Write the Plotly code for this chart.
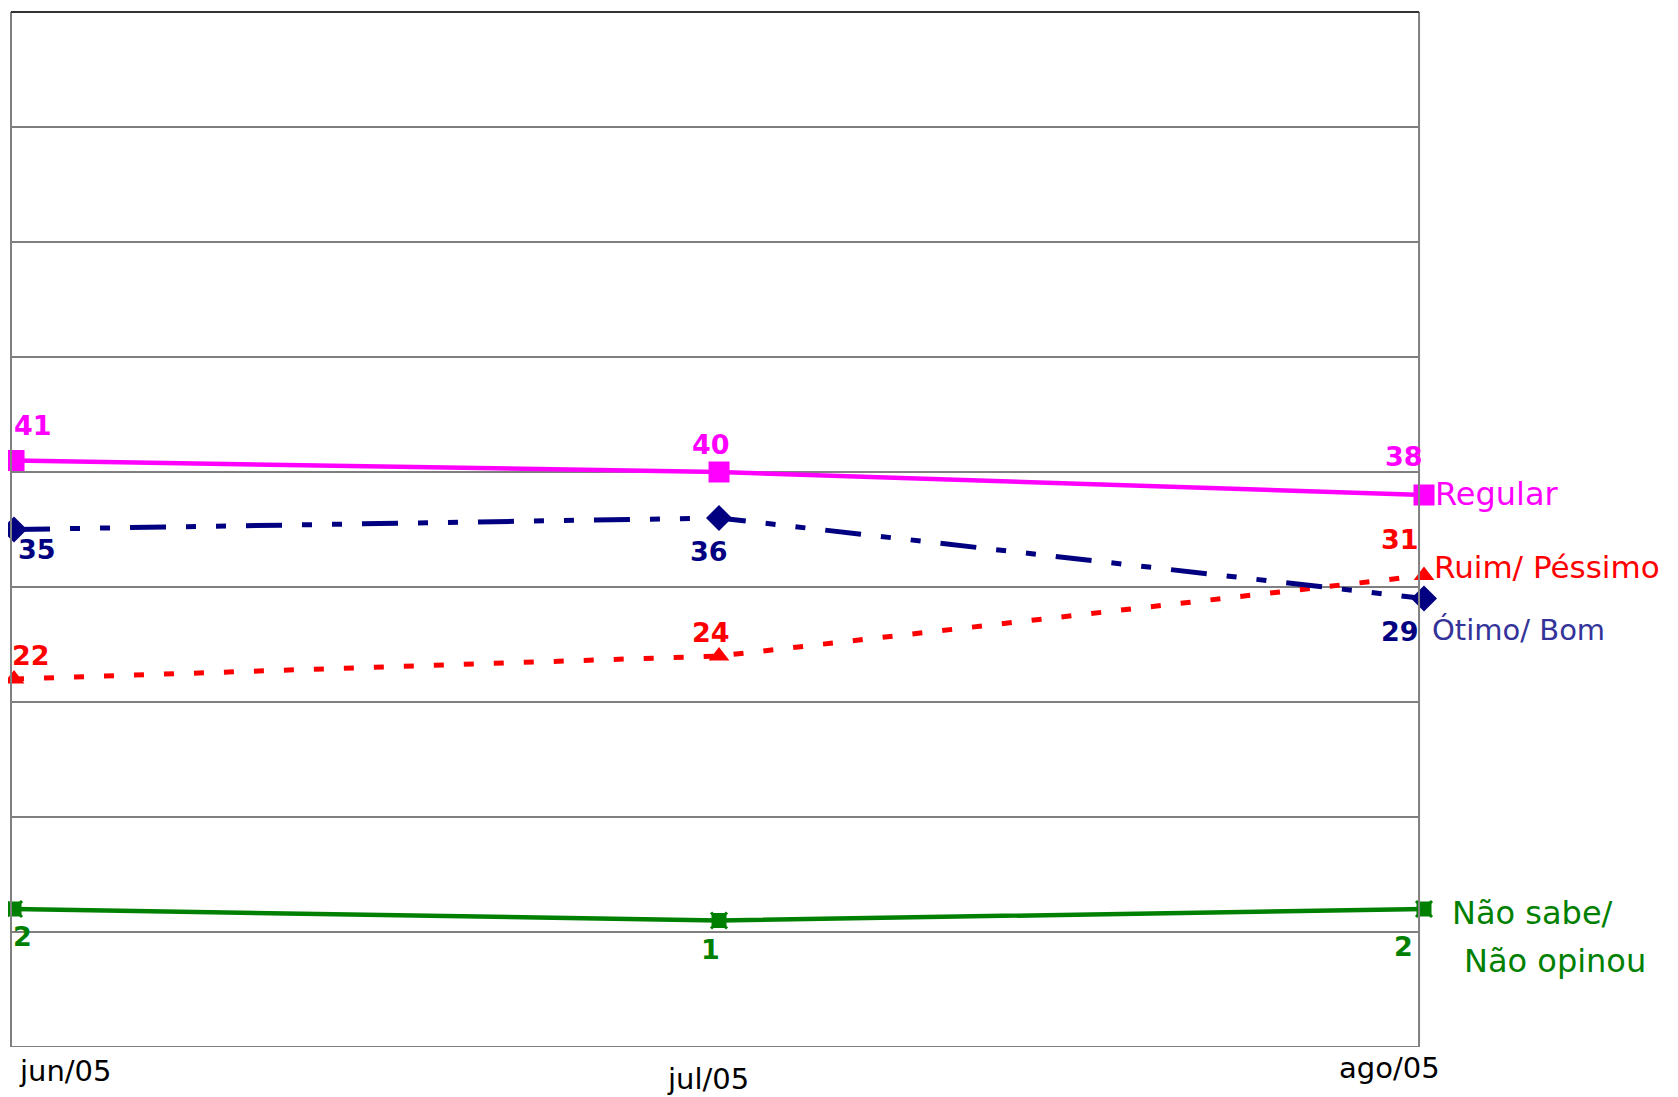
import plotly.graph_objects as go

months = ["jun/05", "jul/05", "ago/05"]
regular = [41, 40, 38]
otimo_bom = [35, 36, 29]
ruim_pessimo = [22, 24, 31]
nao_sabe = [2, 1, 2]
grid_values = [-10, 0, 10, 20, 30, 40, 50, 60, 70, 80]

MAG = "#FF00FF"
NAVY = "#000080"
RED = "#FF0000"
GREEN = "#008000"
FONT = "DejaVu Sans"
XR = 0.9965  # right border of the framed area (paper)

fig = go.Figure()

fig.add_trace(go.Scatter(x=months, y=ruim_pessimo, mode="lines+markers",
                         line=dict(color=RED, width=5, dash="10px,20px"),
                         marker=dict(symbol="triangle-up", size=18, color=RED),
                         cliponaxis=False))
fig.add_trace(go.Scatter(x=months, y=otimo_bom, mode="lines+markers",
                         line=dict(color=NAVY, width=5, dash="36px,20px,10px,20px,10px,20px"),
                         marker=dict(symbol="diamond", size=20, color=NAVY),
                         cliponaxis=False))
fig.add_trace(go.Scatter(x=months, y=regular, mode="lines+markers",
                         line=dict(color=MAG, width=4.5),
                         marker=dict(symbol="square", size=21, color=MAG),
                         cliponaxis=False))
fig.add_trace(go.Scatter(x=months, y=nao_sabe, mode="lines+markers",
                         line=dict(color=GREEN, width=4.5),
                         marker=dict(symbol="square", size=15, color=GREEN),
                         cliponaxis=False))
fig.add_trace(go.Scatter(x=months, y=nao_sabe, mode="markers",
                         marker=dict(symbol="x-thin-open", size=16, color=GREEN,
                                     line=dict(color=GREEN, width=3)),
                         cliponaxis=False))

ann = []
def lab(i, series, color, xs, ys):
    ann.append(dict(x=months[i], y=series[i], xref="x", yref="y",
                    text=str(series[i]), showarrow=False,
                    font=dict(family=FONT, size=27, color=color, weight="bold"),
                    xanchor="center", yanchor="middle", xshift=xs, yshift=ys))

lab(0, regular, MAG, 19, 35)
lab(1, regular, MAG, -8, 28)
lab(2, regular, MAG, -20, 39)
lab(0, otimo_bom, NAVY, 23, -20)
lab(1, otimo_bom, NAVY, -10, -33)
lab(2, otimo_bom, NAVY, -24, -33)
lab(0, ruim_pessimo, RED, 17, 24)
lab(1, ruim_pessimo, RED, -8, 24)
lab(2, ruim_pessimo, RED, -24, 36)
lab(0, nao_sabe, GREEN, 8, -27)
lab(1, nao_sabe, GREEN, -9, -29)
lab(2, nao_sabe, GREEN, -21, -37)

def side(text, i, series, color, size, xs, ys):
    ann.append(dict(x=months[i], y=series[i], xref="x", yref="y",
                    text=text, showarrow=False,
                    font=dict(family=FONT, size=size, color=color),
                    xanchor="left", yanchor="middle", xshift=xs, yshift=ys))

side("Regular", 2, regular, MAG, 32, 9, 1)
side("Ruim/ Péssimo", 2, ruim_pessimo, RED, 31, 8, 9)
side("Ótimo/ Bom", 2, otimo_bom, "#333399", 29, 6, -31)
side("Não sabe/", 2, nao_sabe, GREEN, 32, 26, -4)
side("Não opinou", 2, nao_sabe, GREEN, 32, 38, -52)

# category labels below the frame
tick_shift = [(3, -24), (-54, -32), (-87, -21)]
for i, m in enumerate(months):
    ann.append(dict(x=m, y=0, xref="x", yref="paper", text=m, showarrow=False,
                    font=dict(family=FONT, size=29, color="#000000"),
                    xanchor="left", yanchor="middle",
                    xshift=tick_shift[i][0], yshift=tick_shift[i][1]))

shapes = [dict(type="line", xref="paper", yref="y", x0=0, x1=XR, y0=g, y1=g,
               line=dict(color="#000000", width=1), layer="below")
          for g in grid_values]
shapes += [
    dict(type="line", xref="paper", yref="paper", x0=0, x1=0, y0=0, y1=1,
         line=dict(color="#808080", width=2)),
    dict(type="line", xref="paper", yref="paper", x0=XR, x1=XR, y0=0, y1=1,
         line=dict(color="#808080", width=2)),
    dict(type="line", xref="paper", yref="paper", x0=0, x1=XR, y0=1, y1=1,
         line=dict(color="#333333", width=2)),
]

fig.update_layout(
    width=1670, height=1089,
    margin=dict(l=3, r=254, t=4, b=50, autoexpand=False),
    paper_bgcolor="white", plot_bgcolor="white",
    showlegend=False,
    annotations=ann,
    shapes=shapes,
    xaxis=dict(type="category", range=[-0.0043, 2.0], showgrid=False,
               showticklabels=False, zeroline=False, showline=False, ticks=""),
    yaxis=dict(range=[-10, 80], showgrid=False, showticklabels=False,
               zeroline=False, showline=False, ticks=""),
)

fig.write_html("out.html")
